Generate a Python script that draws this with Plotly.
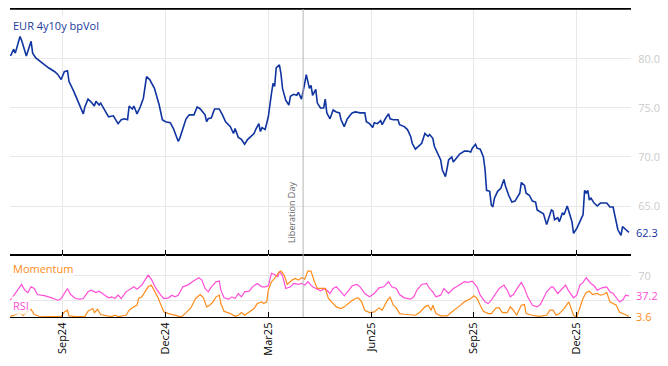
import pandas as pd
import plotly.graph_objects as go

# business-day offsets from 2024-07-15 (Mon) and the values
start_day = "2024-07-15"

vol_k = [2,4,5,6,8,9,11,12,15,16,18,21,26,30,32,34,36,38,39,42,45,48,49,51,53,55,56,58,59,62,
         64,67,70,72,74,76,77,79,80,82,84,86,88,90,93,96,98,100,103,105,108,109,111,113,115,118,120,122,125,126,
         127,129,131,134,136,138,141,143,144,146,148,150,152,154,156,157,159,160,161,163,165,167,168,169,170,172,173,174,176,178,
         179,181,183,184,186,188,189,191,192,193,195,196,198,200,201,202,204,206,208,210,211,213,215,217,218,220,223,226,227,229,
         231,232,234,236,237,239,241,242,244,247,248,251,253,255,256,258,260,262,264,266,267,269,270,272,274,275,277,278,279,281,
         282,284,286,289,291,293,294,296,297,299,301,302,303,305,306,307,308,310,312,314,315,317,319,321,323,324,325,327,328,330,
         332,334,335,337,339,341,342,344,345,346,348,349,351,352,354,355,357,358,360,362,364,365,366,367,368,369,371,373,375,379,
         381,383,385,386,388,389,391,393]
vol = [80.3,81.0,80.6,81.1,82.3,81.9,80.7,80.3,81.8,80.6,80.1,79.7,79.1,78.7,78.4,77.9,78.7,78.8,77.7,76.7,
       75.6,74.4,75.1,75.9,75.6,75.2,75.7,75.3,75.5,74.6,74.1,74.2,73.4,73.8,73.9,73.8,75.2,74.9,75.2,74.4,
       75.1,76.0,78.2,77.9,77.0,75.3,73.8,73.6,73.5,72.9,71.6,71.9,72.9,73.9,74.3,74.3,75.1,74.9,74.3,73.6,
       73.9,74.0,74.9,74.9,74.3,73.6,73.1,72.4,72.9,72.0,71.8,71.3,71.8,72.1,72.4,72.8,73.4,72.6,73.0,72.8,
       74.1,76.5,77.5,77.2,79.1,79.4,78.5,77.0,75.8,75.3,76.2,76.4,76.3,76.6,75.9,77.5,78.4,77.0,77.3,76.3,
       76.9,75.5,75.0,75.0,75.9,74.5,73.9,74.8,74.6,74.5,73.8,73.1,73.9,74.3,74.5,74.6,74.5,74.5,73.6,73.4,
       73.0,73.5,73.4,73.7,73.3,73.9,74.4,73.9,73.8,73.8,73.3,73.1,72.8,72.1,71.4,70.8,71.1,71.4,72.4,72.1,
       72.3,71.9,71.1,70.4,69.7,68.7,68.0,68.8,69.7,70.0,69.5,69.9,70.3,70.6,70.6,70.5,70.9,71.3,70.9,70.8,
       70.0,68.8,66.6,66.5,65.1,64.9,65.8,66.5,66.8,67.7,67.0,66.1,65.4,65.5,66.1,66.3,67.4,67.1,66.3,66.1,
       65.5,65.4,64.6,64.4,64.2,63.1,63.7,64.6,64.5,63.6,63.8,63.4,64.3,64.1,65.0,64.4,63.4,62.2,62.7,63.4,
       64.1,66.6,66.3,66.6,65.6,65.8,65.3,65.0,65.3,65.3,64.9,64.9,63.1,62.6,62.0,62.9,62.6,62.3]

rsi_k = [2,6,9,11,13,15,17,19,24,28,32,34,36,38,40,43,46,48,51,53,56,58,60,64,66,68,70,72,75,77,
         80,82,85,87,89,91,94,97,99,102,104,106,108,111,114,117,121,123,125,127,129,132,134,135,137,140,142,144,146,148,
         150,153,155,158,161,163,165,167,169,171,172,174,176,179,181,184,186,188,190,193,195,198,201,204,206,208,211,213,216,218,
         221,223,226,229,232,235,238,241,243,246,248,251,255,257,259,262,265,267,269,271,274,276,279,282,284,286,289,291,294,297,
         299,302,304,306,309,311,314,316,318,320,323,325,327,329,332,335,337,339,341,344,345,348,351,353,355,358,360,362,364,366,
         369,371,373,376,379,381,383,385,387,389,391,393]
rsi = [30,43.7,55.8,46.5,42.6,51.9,49.2,39.3,37.1,33.9,30,32.8,41,49.2,39.3,32.8,31.7,32.8,43.7,46.5,
       42.6,44.8,41,33.9,35.5,32.8,38.2,32.8,43.7,46.5,51.9,48.1,54.7,62.9,71.1,64.5,49.2,38.2,32.8,33.9,
       38.2,35.5,38.2,51.9,54.7,60.2,66.7,62.9,49.2,43.7,51.9,60.2,61.3,46.5,33.9,31.7,35.5,32.8,41,35.5,
       43.7,44.8,51.9,57.4,51.9,51.9,53.6,73.9,72.2,68.4,76.6,70,49.2,51.9,57.4,55.8,57.4,54.7,60.2,51.9,
       49.2,45.5,49.2,41,49.2,51.9,43.7,37.1,46.5,53.6,55.8,51.9,41,35.5,41,50.3,51.9,60.2,51.9,49.2,
       39.3,33.9,31.7,35.5,46.5,55.8,57.4,49.2,43.7,35.5,38.2,49.2,41,49.2,51.9,55.8,60.2,59.1,61.3,51.9,
       38.2,27.3,24.5,30,42.6,49.2,54.7,46.5,35.5,39.3,51.9,59.1,49.2,35.5,21.8,19.1,22.9,32.8,43.7,51.9,
       51.9,41,49.2,54.7,44.8,33.9,38.2,54.7,59.1,66.7,57.4,53.6,46.5,50.3,51.9,43.7,41,33.9,27.3,30,
       38.2,37.2]

mom_k = [2,5,8,10,13,15,17,20,26,34,36,38,39,43,49,51,54,55,57,59,63,66,68,70,75,77,80,82,83,85,
         87,89,91,93,95,97,99,102,106,110,113,116,119,122,124,126,128,130,132,134,135,137,141,144,146,148,150,154,156,158,
         161,162,164,165,167,169,172,173,175,177,180,182,184,186,188,190,192,194,196,198,201,203,205,208,211,213,217,220,222,224,
         226,229,232,235,237,240,242,244,246,248,251,255,258,261,264,266,268,269,271,274,278,281,284,286,289,293,295,297,299,301,
         304,306,309,311,313,316,318,320,322,325,327,328,332,336,341,343,345,347,349,352,355,356,358,360,361,364,366,368,370,373,
         375,377,379,381,383,385,387,389,392,393]
mom = [3.5,6,9,5,12,15,6.5,3.7,3.2,3.2,10.8,13.6,4.3,3.2,3.2,11.9,16.3,9.7,15.2,6.5,
       4.3,3.2,5.4,3.2,5.4,13.6,19.1,21.8,32.8,35.5,43.7,51.9,54.7,44.8,35.5,22.9,10.8,8.1,5.4,2.6,
       9.7,17.4,32.8,39.3,33.9,19.1,21.8,27.3,35.5,38.2,24.5,11.9,8.1,3.7,5.4,9.7,5.4,11.9,16.3,24.5,
       27.3,24.5,27.3,46.5,60.2,65.6,76.6,77.7,71.1,55.8,62.9,65.6,62.9,66.7,64.5,77.7,77.7,61.3,49.2,49.2,
       49.2,32.8,27.3,19.1,16.3,19.1,27.3,32.8,33.9,27.3,13.6,9.7,10.8,17.4,13.6,28.4,35.5,21.8,17.4,8.1,
       7,5.4,5.4,10.8,19.1,21.8,13.6,21.8,8.1,4.3,4.3,10.8,16.3,20.7,27.3,32.8,37.1,32.8,21.8,11.9,
       8.1,8.1,17.4,17.4,9.7,9.7,19.1,13.6,5.4,21.8,22.9,8.1,5.4,3.7,5.4,13.6,13.6,5.4,8.1,16.3,
       27.3,19.1,5.4,2.6,10.8,32.8,42.6,44.8,39.3,41,38.2,39.3,42.6,27.3,24.5,21.8,10.8,8.1,5.4,3.6]

tick_dates = ["2024-09-02", "2024-12-02", "2025-03-03", "2025-06-02", "2025-09-01", "2025-12-01"]
tick_text = ["Sep24", "Dec24", "Mar25", "Jun25", "Sep25", "Dec25"]
event_date = "2025-04-02"
event_text = "Liberation Day"
x_range = ["2024-07-16 16:00", "2026-01-16 08:00"]

BLUE = "#1034a0"
MAG = "#ff4fd6"
ORG = "#ff8c1a"
GRID = "#e8e8e8"
TICKGREY = "#cccccc"
FONT = "Open Sans"

bdays = pd.bdate_range(start_day, periods=400)
vol_dates = bdays[vol_k]
rsi_dates = bdays[rsi_k]
mom_dates = bdays[mom_k]

fig = go.Figure()
fig.add_trace(go.Scatter(x=vol_dates, y=vol, mode="lines", line=dict(color=BLUE, width=1.6),
                         xaxis="x", yaxis="y", showlegend=False))
fig.add_trace(go.Scatter(x=rsi_dates, y=rsi, mode="lines", line=dict(color=MAG, width=1.2),
                         xaxis="x2", yaxis="y2", showlegend=False))
fig.add_trace(go.Scatter(x=mom_dates, y=mom, mode="lines", line=dict(color=ORG, width=1.2),
                         xaxis="x2", yaxis="y2", showlegend=False))

split = 0.2013
common_x = dict(type="date", range=x_range, rangebreaks=[dict(bounds=["sat", "mon"])],
                tickvals=tick_dates, ticktext=tick_text, showgrid=True, gridcolor=GRID,
                showline=True, linecolor="black", linewidth=1.3, mirror=True,
                ticks="inside", ticklen=5, tickcolor="black", zeroline=False)

fig.update_layout(
    width=668, height=366,
    margin=dict(l=10, r=37, t=9, b=49),
    paper_bgcolor="white", plot_bgcolor="white",
    font=dict(family=FONT, size=11, color="black"),
    xaxis=dict(domain=[0, 1], anchor="y", showticklabels=False, **common_x),
    xaxis2=dict(domain=[0, 1], anchor="y2", matches="x", showticklabels=True, tickangle=-90,
                tickfont=dict(family=FONT, size=11, color="black"), **common_x),
    yaxis=dict(domain=[split, 1], anchor="x", side="right", range=[60.0, 85.1],
               tickvals=[65, 70, 75, 80], tickformat=".1f", showgrid=True, gridcolor=GRID,
               showline=False, zeroline=False, ticks="outside", ticklen=4, tickcolor="rgba(0,0,0,0)",
               tickfont=dict(family=FONT, size=11, color=TICKGREY)),
    yaxis2=dict(domain=[0, split], anchor="x2", side="right", range=[2.5, 104],
                tickvals=[30, 70], showgrid=True, gridcolor=GRID,
                showline=False, zeroline=False, ticks="outside", ticklen=4, tickcolor="rgba(0,0,0,0)",
                tickfont=dict(family=FONT, size=11, color=TICKGREY)),
)

# top border of the upper panel
fig.add_shape(type="line", xref="paper", yref="paper", x0=0, x1=1, y0=1, y1=1,
              line=dict(color="black", width=1.3))

# event line across both panels
fig.add_shape(type="line", xref="x", yref="paper", x0=event_date, x1=event_date, y0=0, y1=1,
              line=dict(color="#b5b5b5", width=1))
fig.add_annotation(x=event_date, xref="x", y=0, yref="y domain", text=event_text, textangle=-90,
                   showarrow=False, xanchor="right", yanchor="bottom", xshift=-3, yshift=10,
                   font=dict(family=FONT, size=9, color="#666666"))

# series titles
fig.add_annotation(x=0, xref="paper", y=1, yref="y domain", text="EUR 4y10y bpVol", showarrow=False,
                   xanchor="left", yanchor="top", xshift=1, yshift=-7,
                   font=dict(family=FONT, size=11, color="#1a3a9c"), bgcolor="rgba(255,255,255,0.8)")
fig.add_annotation(x=0, xref="paper", y=1, yref="y2 domain", text="Momentum", showarrow=False,
                   xanchor="left", yanchor="top", xshift=1, yshift=-4,
                   font=dict(family=FONT, size=11, color=ORG), bgcolor="rgba(255,255,255,0.8)")
fig.add_annotation(x=0, xref="paper", y=0, yref="y2 domain", text="RSI", showarrow=False,
                   xanchor="left", yanchor="bottom", xshift=1, yshift=2,
                   font=dict(family=FONT, size=11, color=MAG), bgcolor="rgba(255,255,255,0.8)")

# last-value labels (semi-opaque background, like the reference)
fig.add_annotation(x=1, xref="paper", y=vol[-1], yref="y", text=f"{vol[-1]:.1f}", showarrow=False,
                   xanchor="left", xshift=3, font=dict(family=FONT, size=11, color=BLUE),
                   bgcolor="rgba(255,255,255,0.85)")
fig.add_annotation(x=1, xref="paper", y=rsi[-1], yref="y2", text=f"{rsi[-1]:.1f}", showarrow=False,
                   xanchor="left", xshift=3, font=dict(family=FONT, size=11, color=MAG),
                   bgcolor="rgba(255,255,255,0.85)")
fig.add_annotation(x=1, xref="paper", y=mom[-1], yref="y2", text=f"{mom[-1]:.1f}", showarrow=False,
                   xanchor="left", xshift=3, font=dict(family=FONT, size=11, color=ORG),
                   bgcolor="rgba(255,255,255,0.85)")

fig.write_html("out.html", config={"displayModeBar": False},
               post_script="document.body.style.margin='0';")
